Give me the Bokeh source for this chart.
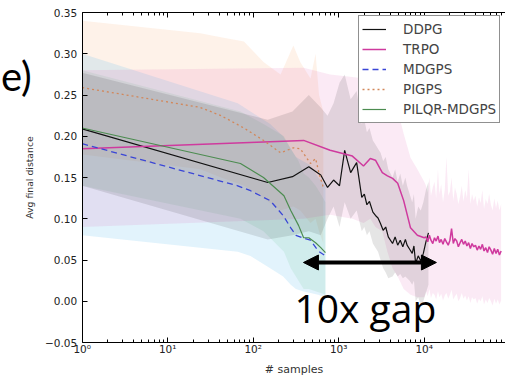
from bokeh.plotting import figure
from bokeh.models import (FixedTicker, Range1d, LogAxis, Legend, LegendItem, Label,
                          Arrow, NormalHead, PrintfTickFormatter)
from bokeh.embed import file_html
from bokeh.resources import INLINE

# ---------------- data ----------------
ddpg_x = [1, 148, 288, 447, 617, 741, 871, 1023, 1175, 1380, 1622, 1862, 1995, 2138, 2291,
          2512, 2692, 2884, 3090, 3311, 3548, 3802, 4266, 4571, 4898, 5248, 5623, 6026,
          6310, 6761, 7244, 7586, 7943, 8511, 9120, 9772, 10471, 11220]
ddpg_y = [0.209, 0.144, 0.151, 0.163, 0.153, 0.138, 0.147, 0.140, 0.183, 0.156, 0.168, 0.126,
          0.130, 0.117, 0.121, 0.108, 0.104, 0.101, 0.094, 0.086, 0.090, 0.078, 0.070, 0.078,
          0.068, 0.074, 0.066, 0.075, 0.068, 0.063, 0.058, 0.067, 0.046, 0.055, 0.049, 0.058,
          0.072, 0.083]
ddpg_hi = [0.277, 0.220, 0.230, 0.250, 0.235, 0.225, 0.240, 0.265, 0.275, 0.245, 0.255, 0.215,
           0.220, 0.205, 0.210, 0.195, 0.190, 0.185, 0.180, 0.170, 0.175, 0.160, 0.150, 0.160,
           0.145, 0.155, 0.140, 0.150, 0.140, 0.130, 0.120, 0.130, 0.100, 0.115, 0.110, 0.120,
           0.135, 0.145]
ddpg_lo = [0.140, 0.075, 0.080, 0.085, 0.080, 0.100, 0.115, 0.090, 0.120, 0.100, 0.110, 0.085,
           0.090, 0.080, 0.085, 0.070, 0.065, 0.060, 0.050, 0.040, 0.035, 0.028, 0.030, 0.035,
           0.030, 0.033, 0.028, 0.030, 0.028, 0.025, 0.020, 0.025, 0.000, 0.005, -0.005, 0.000,
           0.010, 0.020]

trpo_x = [1, 389, 794, 1445, 1950, 2344, 2692, 3236, 3715, 4266, 4898, 5754, 6918, 8318, 10000,
          10500, 11000, 11500, 12000, 12600, 13200, 13800, 14500, 15100, 15800, 16600, 17400,
          18200, 19100, 20000, 20900, 21900, 22900, 24000, 25100, 26300, 27500, 28800, 30200,
          31600, 33100, 34700, 36300, 38000, 39800, 41700, 43700, 45700, 47900, 50100, 52500,
          55000, 57500, 60300, 63100, 66100, 69200, 72400, 75900, 79400]
trpo_y = [0.185, 0.195, 0.183, 0.176, 0.164, 0.173, 0.171, 0.156, 0.152, 0.149, 0.143, 0.122,
          0.089, 0.080, 0.077,
          0.078, 0.072, 0.080, 0.074, 0.070, 0.077, 0.073, 0.079, 0.071, 0.075,
          0.069, 0.076, 0.072, 0.068, 0.074, 0.088, 0.070, 0.076, 0.073, 0.066,
          0.071, 0.075, 0.069, 0.073, 0.067, 0.071, 0.064, 0.070, 0.066, 0.068,
          0.062, 0.067, 0.063, 0.069, 0.061, 0.065, 0.059, 0.066, 0.062, 0.057,
          0.064, 0.058, 0.063, 0.056, 0.061]
trpo_hi = [0.280, 0.283, 0.275, 0.272, 0.270, 0.268, 0.266, 0.262, 0.258, 0.250, 0.232, 0.203,
           0.174, 0.160, 0.145,
           0.140, 0.132, 0.150, 0.128, 0.138, 0.145, 0.125, 0.160, 0.130, 0.142,
           0.120, 0.135, 0.175, 0.128, 0.133, 0.150, 0.122, 0.138, 0.130, 0.118,
           0.127, 0.140, 0.121, 0.135, 0.125, 0.160, 0.118, 0.130, 0.122, 0.128,
           0.115, 0.126, 0.119, 0.135, 0.112, 0.124, 0.118, 0.130, 0.117, 0.110,
           0.125, 0.113, 0.122, 0.110, 0.118]
trpo_lo = [0.090, 0.100, 0.105, 0.100, 0.095, 0.100, 0.090, 0.085, 0.060, 0.040, 0.030, 0.015,
           0.008, 0.005, 0.005,
           0.012, 0.006, 0.015, 0.004, 0.010, 0.008, 0.002, 0.012, 0.005, 0.009,
           0.001, 0.007, 0.010, 0.003, 0.008, 0.014, 0.002, 0.006, 0.009, 0.000,
           0.004, 0.010, 0.003, 0.007, 0.001, 0.006, -0.002, 0.005, 0.002, 0.004,
           -0.003, 0.003, 0.000, 0.006, -0.004, 0.002, -0.002, 0.004, 0.000, -0.005,
           0.003, -0.003, 0.002, -0.004, 0.001]

mdgps_x = [1, 66, 93, 158, 224, 275, 316, 380, 468, 575, 700]
mdgps_y = [0.191, 0.140, 0.134, 0.122, 0.104, 0.089, 0.080, 0.077, 0.074, 0.061, 0.055]
mdgps_hi = [0.300, 0.240, 0.230, 0.215, 0.200, 0.185, 0.175, 0.170, 0.165, 0.150, 0.140]
mdgps_lo = [0.080, 0.060, 0.055, 0.040, 0.030, 0.020, 0.015, 0.012, 0.010, 0.008, 0.005]

pigps_x = [1, 24, 42, 78, 132, 209, 295, 355, 468, 537, 589, 661]
pigps_y = [0.259, 0.235, 0.225, 0.210, 0.195, 0.180, 0.186, 0.185, 0.167, 0.173, 0.155, 0.138]
pigps_hi = [0.340, 0.325, 0.320, 0.315, 0.290, 0.275, 0.310, 0.290, 0.270, 0.300, 0.250, 0.230]
pigps_lo = [0.178, 0.160, 0.150, 0.140, 0.125, 0.110, 0.115, 0.110, 0.095, 0.100, 0.085, 0.070]

pilqr_x = [1, 71, 132, 229, 275, 339, 389, 447, 537, 617, 700]
pilqr_y = [0.210, 0.167, 0.150, 0.128, 0.110, 0.092, 0.077, 0.077, 0.071, 0.065, 0.059]
pilqr_hi = [0.280, 0.230, 0.215, 0.200, 0.185, 0.170, 0.155, 0.150, 0.140, 0.130, 0.120]
pilqr_lo = [0.140, 0.100, 0.085, 0.060, 0.040, 0.025, 0.015, 0.015, 0.012, 0.010, 0.008]

x_major = [1, 10, 100, 1000, 10000, 100000]
x_labels = ["10\u2070", "10\u00b9", "10\u00b2", "10\u00b3", "10\u2074", "10\u2075"]
y_major = [-0.05, 0.0, 0.05, 0.10, 0.15, 0.20, 0.25, 0.30, 0.35]
x_lim = (1, 100000)
y_lim = (-0.05, 0.35)

# ---------------- figure ----------------
# the frame covers the whole canvas; axes are pinned at the data limits
p = figure(width=505, height=376, x_axis_type="log", output_backend="svg",
           toolbar_location=None, x_range=Range1d(0.1108, 89330),
           y_range=Range1d(-0.0912, 0.3646), min_border=0)
p.title.visible = False
p.outline_line_color = None
p.grid.visible = False

minor = [m * d for d in [1, 10, 100, 1000, 10000] for m in range(2, 10)]
xt = FixedTicker(ticks=x_major, minor_ticks=minor)
yt = FixedTicker(ticks=y_major, minor_ticks=[])

# bands
p.varea(x=pigps_x, y1=pigps_lo, y2=pigps_hi, fill_color="#f5a060", fill_alpha=0.14)
p.varea(x=mdgps_x, y1=mdgps_lo, y2=mdgps_hi, fill_color="#6cc4f0", fill_alpha=0.20)
p.varea(x=pilqr_x, y1=pilqr_lo, y2=pilqr_hi, fill_color="#60c080", fill_alpha=0.13)
p.varea(x=trpo_x, y1=trpo_lo, y2=trpo_hi, fill_color="#e060b0", fill_alpha=0.13)
p.varea(x=ddpg_x, y1=ddpg_lo, y2=ddpg_hi, fill_color="#000000", fill_alpha=0.10)

# lines
r1 = p.line(ddpg_x, ddpg_y, line_color="#111111", line_width=1.2)
r2 = p.line(trpo_x, trpo_y, line_color="#cf3a9e", line_width=1.5)
r3 = p.line(mdgps_x, mdgps_y, line_color="#3a46d6", line_width=1.3, line_dash="6 4")
r4 = p.line(pigps_x, pigps_y, line_color="#d2875a", line_width=1.3, line_dash="2 3")
r5 = p.line(pilqr_x, pilqr_y, line_color="#4c8c50", line_width=1.2)

legend = Legend(items=[LegendItem(label="DDPG", renderers=[r1]),
                       LegendItem(label="TRPO", renderers=[r2]),
                       LegendItem(label="MDGPS", renderers=[r3]),
                       LegendItem(label="PIGPS", renderers=[r4]),
                       LegendItem(label="PILQR-MDGPS", renderers=[r5])],
                location=(358, 253), padding=3, spacing=0, margin=0,
                glyph_width=24, glyph_height=20, label_height=20, label_standoff=17,
                label_text_font="DejaVu Sans", label_text_font_size="13.5px",
                border_line_color="#222222", border_line_width=1,
                background_fill_color="white", background_fill_alpha=1.0)
p.add_layout(legend)

# axes
for ax in p.xaxis:
    ax.ticker = xt
    ax.fixed_location = y_lim[0]
    ax.bounds = x_lim
    ax.major_label_overrides = dict(zip(x_major, x_labels))
for ax in p.yaxis:
    ax.ticker = yt
    ax.fixed_location = x_lim[0]
    ax.bounds = y_lim
    ax.formatter = PrintfTickFormatter(format="%.2f")
    ax.major_label_overrides = {-0.05: "\u22120.05"}

for ax in list(p.xaxis) + list(p.yaxis):
    ax.axis_line_color = "black"
    ax.major_tick_in = 5
    ax.major_tick_out = 0
    ax.minor_tick_in = 3
    ax.minor_tick_out = 0
    ax.major_label_text_font = "DejaVu Sans"
    ax.major_label_text_font_size = "10.5px"
    ax.major_label_text_color = "#222222"
    ax.axis_label_text_font = "DejaVu Sans"
    ax.axis_label_text_font_style = "normal"
    ax.axis_label_text_color = "#333333"

p.yaxis.axis_label = "Avg final distance"
p.yaxis.axis_label_text_font_size = "9.3px"
p.yaxis.major_label_standoff = 5
p.yaxis.axis_label_standoff = 7
p.xaxis.axis_label = "# samples"
p.xaxis.axis_label_text_font_size = "11px"
p.xaxis.major_label_standoff = 0
p.xaxis.axis_label_standoff = 5

top = LogAxis(ticker=xt, major_tick_in=5, major_tick_out=0, minor_tick_in=3,
              minor_tick_out=0, major_label_text_font_size="0px", major_label_standoff=0,
              axis_line_color="black", fixed_location=y_lim[1], bounds=x_lim)
top.major_label_overrides = {t: "" for t in x_major}
p.add_layout(top, "above")

# annotations
p.add_layout(Arrow(start=NormalHead(size=15, fill_color="black", line_color="black"),
                   end=NormalHead(size=15, fill_color="black", line_color="black"),
                   x_start=387, y_start=0.047, x_end=13900, y_end=0.047,
                   line_width=4, line_color="black"))
p.add_layout(Label(x=304, y=-0.0076, text="10x gap", text_font="Open Sans",
                   text_font_size="39px", text_color="black", text_baseline="alphabetic"))
p.add_layout(Label(x=0.112, y=0.2735, text="e)", text_font="Lato",
                   text_font_size="40px", text_color="black", text_baseline="alphabetic"))

open("out.html", "w").write(file_html(p, INLINE))
